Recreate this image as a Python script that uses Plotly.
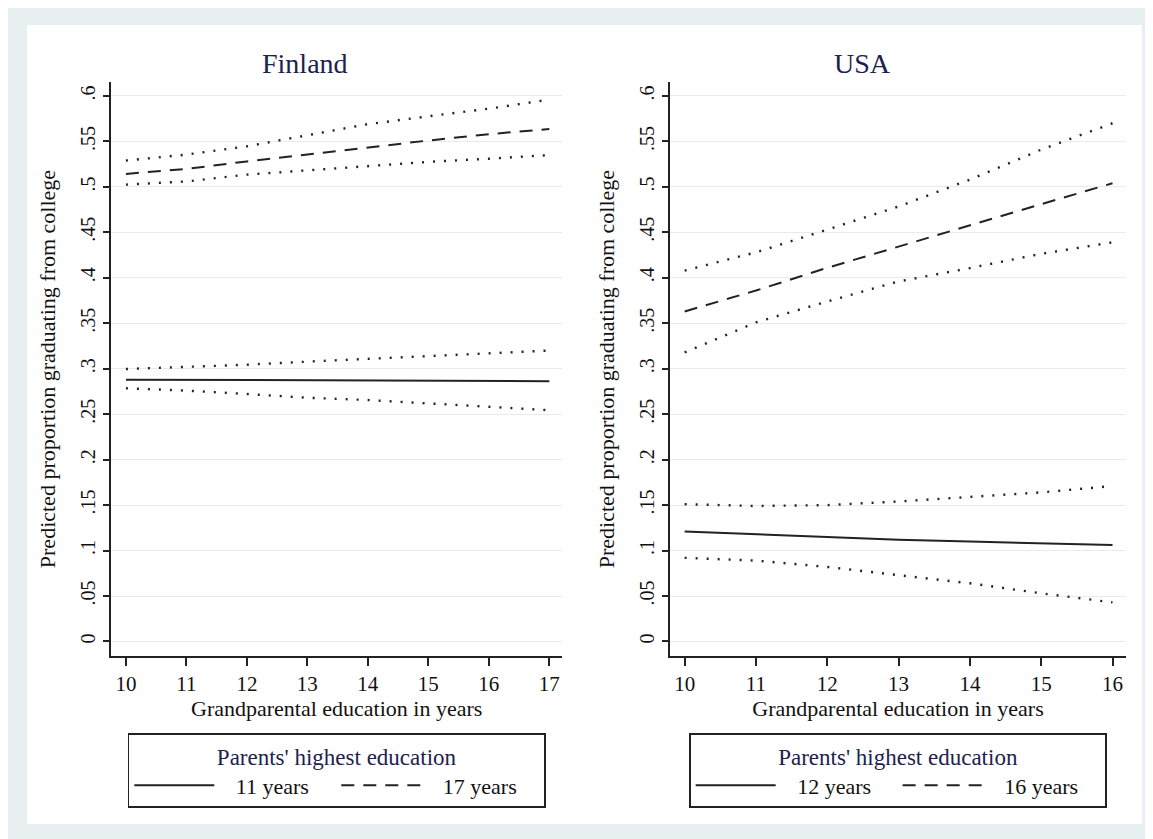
import plotly.graph_objects as go

# ---------------- data ----------------
fin_x = [10, 11, 12, 13, 14, 15, 16, 17]
fin_11_mean = [0.2880, 0.2878, 0.2870, 0.2868, 0.2866, 0.2865, 0.2864, 0.2863]
fin_11_hi = [0.2997, 0.3020, 0.3044, 0.3078, 0.3108, 0.3137, 0.3167, 0.3200]
fin_11_lo = [0.2785, 0.2759, 0.2722, 0.2681, 0.2656, 0.2619, 0.2574, 0.2544]
fin_17_mean = [0.5143, 0.5198, 0.5280, 0.5358, 0.5430, 0.5510, 0.5580, 0.5637]
fin_17_hi = [0.5290, 0.5355, 0.5446, 0.5564, 0.5690, 0.5776, 0.5860, 0.5960]
fin_17_lo = [0.5025, 0.5060, 0.5135, 0.5180, 0.5226, 0.5275, 0.5310, 0.5350]

usa_x = [10, 11, 12, 13, 14, 15, 16]
usa_12_mean = [0.121, 0.118, 0.115, 0.112, 0.110, 0.108, 0.106]
usa_12_hi = [0.151, 0.149, 0.150, 0.154, 0.159, 0.164, 0.171]
usa_12_lo = [0.092, 0.089, 0.082, 0.073, 0.064, 0.053, 0.043]
usa_16_mean = [0.363, 0.386, 0.411, 0.4345, 0.4576, 0.481, 0.504]
usa_16_hi = [0.408, 0.428, 0.453, 0.4785, 0.508, 0.541, 0.570]
usa_16_lo = [0.318, 0.351, 0.374, 0.396, 0.4107, 0.4264, 0.439]

y_tickvals = [0, 0.05, 0.1, 0.15, 0.2, 0.25, 0.3, 0.35, 0.4, 0.45, 0.5, 0.55, 0.6]
y_ticktext = ["0", ".05", ".1", ".15", ".2", ".25", ".3", ".35", ".4", ".45", ".5", ".55", ".6"]

panel_titles = ["Finland", "USA"]
legend_title = "Parents' highest education"
x_title = "Grandparental education in years"
y_title = "Predicted proportion graduating from college"

# ---------------- style ----------------
# the page body has an 8px default margin, so the figure is drawn 8px in
OFF = 8
W, H = 1153 - OFF, 839 - OFF
FONT = "Liberation Serif, Times New Roman, serif"
NAVY = "#1c2250"
LINE = "#222222"
GRID = "#e3edf1"
FRAME = "#e8eff1"
SOLID = dict(color=LINE, width=2)
DASHED = dict(color=LINE, width=2, dash="13px,9px")
DOTTED = dict(color=LINE, width=2.4, dash="2px,9px")
GAP = "\u00a0\u00a0\u00a0"


def px_x(p):
    return (p - OFF) / W


def px_y(p):
    return 1 - (p - OFF) / H


fig = go.Figure()


def add_panel(x, mean_a, hi_a, lo_a, mean_b, hi_b, lo_b, name_a, name_b, xa, ya, leg):
    for ci in (hi_a, lo_a, hi_b, lo_b):
        fig.add_trace(go.Scatter(x=x, y=ci, mode="lines", line=DOTTED, showlegend=False,
                                 xaxis=xa, yaxis=ya, hoverinfo="skip"))
    fig.add_trace(go.Scatter(x=x, y=mean_a, mode="lines", line=SOLID, name=GAP + name_a,
                             xaxis=xa, yaxis=ya, legend=leg))
    fig.add_trace(go.Scatter(x=x, y=mean_b, mode="lines", line=DASHED, name=GAP + name_b,
                             xaxis=xa, yaxis=ya, legend=leg))


add_panel(fin_x, fin_11_mean, fin_11_hi, fin_11_lo, fin_17_mean, fin_17_hi, fin_17_lo,
          "11 years", "17 years", "x", "y", "legend")
add_panel(usa_x, usa_12_mean, usa_12_hi, usa_12_lo, usa_16_mean, usa_16_hi, usa_16_lo,
          "12 years", "16 years", "x2", "y2", "legend2")

# panel geometry (reference pixels)
fin_l, fin_r = 111.4, 562.0
usa_l, usa_r = 670.4, 1125.7
top_px, bot_px = 81.7, 656.4

common_x = dict(
    showline=True, linecolor=LINE, linewidth=1.6,
    ticks="outside", ticklen=8, tickwidth=1.6, tickcolor=LINE,
    showgrid=False, zeroline=False, dtick=1,
    tickfont=dict(family=FONT, size=21, color="#111"),
    title=dict(text=x_title, font=dict(family=FONT, size=22, color="#111"), standoff=1),
    automargin=False,
)
common_y = dict(
    showline=True, linecolor=LINE, linewidth=1.6,
    ticks="outside", ticklen=7, tickwidth=1.6, tickcolor=LINE,
    showgrid=True, gridcolor=GRID, gridwidth=1.2, zeroline=False,
    tickvals=y_tickvals, ticktext=y_ticktext, tickangle=-90,
    tickfont=dict(family=FONT, size=20, color="#111"),
    title=dict(text=y_title, font=dict(family=FONT, size=22, color="#111")),
    range=[-0.0164, 0.6157], automargin=False,
)

ydom = [px_y(bot_px), px_y(top_px)]
fig.update_layout(
    xaxis=dict(common_x, domain=[px_x(fin_l), px_x(fin_r)], range=[9.76, 17.21], anchor="y"),
    yaxis=dict(common_y, domain=ydom, anchor="x"),
    xaxis2=dict(common_x, domain=[px_x(usa_l), px_x(usa_r)], range=[9.80, 16.185], anchor="y2"),
    yaxis2=dict(common_y, domain=ydom, anchor="x2"),
)

legend_common = dict(
    orientation="h", xanchor="center", yanchor="top", y=px_y(733),
    bgcolor="white", bordercolor=LINE, borderwidth=1.6,
    font=dict(family=FONT, size=22, color="#111"),
    title=dict(text=legend_title, side="top center", font=dict(family=FONT, size=23, color=NAVY)),
    itemwidth=80, entrywidth=112,
)
fig.update_layout(
    legend=dict(legend_common, x=px_x((fin_l + fin_r) / 2)),
    legend2=dict(legend_common, x=px_x((usa_l + usa_r) / 2)),
)

# panel titles
for txt, cx in zip(panel_titles, [305, 862]):
    fig.add_annotation(text=txt, x=px_x(cx), y=px_y(64), xref="paper", yref="paper",
                       showarrow=False, xanchor="center", yanchor="middle",
                       font=dict(family=FONT, size=28, color=NAVY))

# inner white graph region inside the light frame
fig.add_shape(type="rect", xref="paper", yref="paper", layer="below",
              x0=px_x(27), x1=px_x(1142), y0=px_y(824), y1=px_y(25),
              fillcolor="white", line_width=0)

fig.update_layout(
    width=W, height=H, margin=dict(l=0, r=0, t=0, b=0),
    paper_bgcolor=FRAME, plot_bgcolor="white",
    font=dict(family=FONT, color="#111"),
)

fig.write_html("out.html")
